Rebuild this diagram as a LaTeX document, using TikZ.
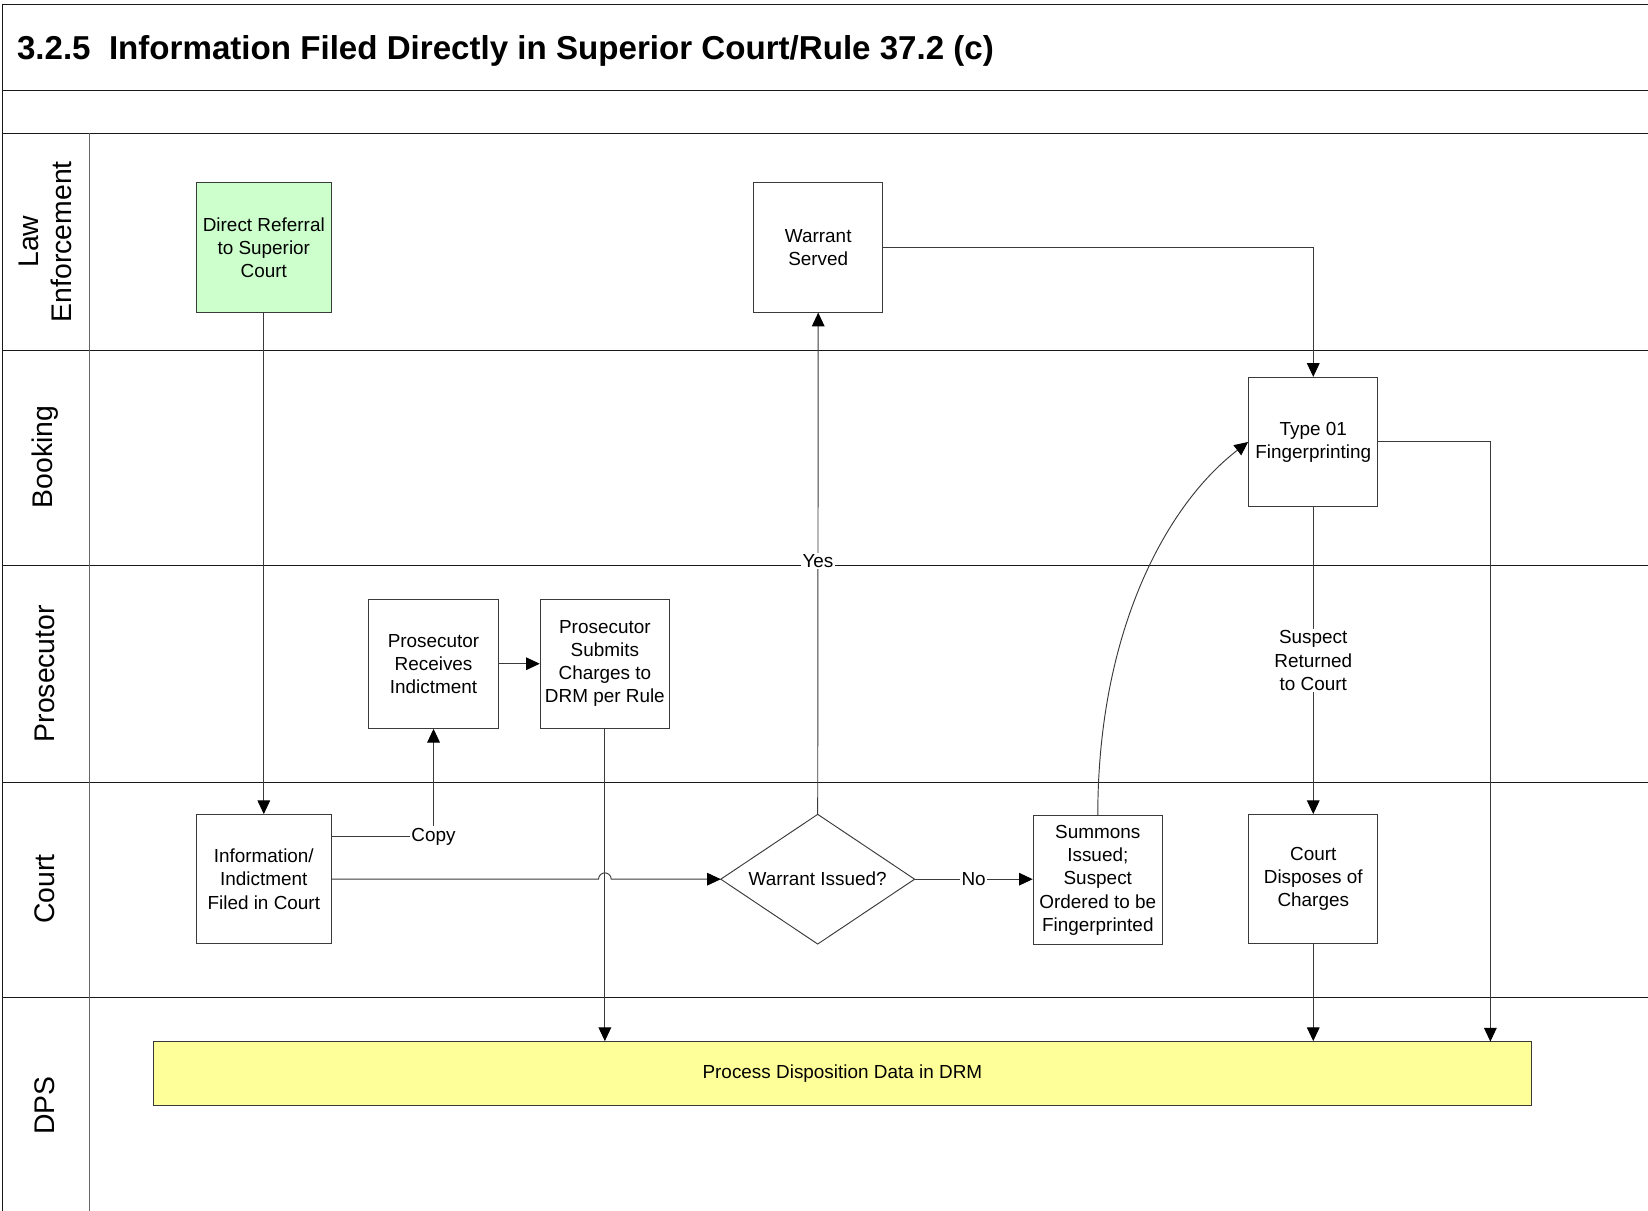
\documentclass[tikz,border=0pt]{standalone}
\usepackage{fontspec}
\setmainfont{Liberation Sans}
\usetikzlibrary{arrows.meta,calc}
\definecolor{boxgreen}{HTML}{CCFFCC}
\definecolor{boxyellow}{HTML}{FFFF99}
\definecolor{edgegray}{HTML}{3A3A3A}
\begin{document}
\begin{tikzpicture}[x=1pt,y=-1pt,
  lane/.style={line width=0.9pt,draw=black!90},
  colline/.style={line width=0.9pt,draw=black!60},
  procbox/.style={draw=edgegray,line width=0.9pt,fill=white,minimum width=123pt,minimum height=123pt,inner sep=0pt,align=center,font=\fontsize{18}{22}\selectfont},
  lanelabel/.style={rotate=90,align=center,font=\fontsize{27}{31}\selectfont},
  conn/.style={draw=edgegray,line width=0.9pt},
  arr/.style={conn,-{Triangle[length=13pt,width=12pt,color=black]}},
  lbl/.style={fill=white,inner sep=1.5pt,font=\fontsize{18}{22}\selectfont}]
\useasboundingbox (0,0) rectangle (1568,1152);
% frame and lanes
\draw[lane] (2,1152) -- (2,4) -- (1568,4);
\draw[lane] (2,86) -- (1568,86);
\draw[lane] (2,127) -- (1568,127);
\draw[lane] (2,333) -- (1568,333);
\draw[lane] (2,538) -- (1568,538);
\draw[lane] (2,744) -- (1568,744);
\draw[lane,line width=1.3pt] (2,949) -- (1568,949);
\draw[colline] (85,127) -- (85,1152);
% title
\node[anchor=base west,inner sep=0pt,font=\fontsize{31.5}{36}\selectfont\bfseries] (title) at (16,57) {3.2.5\hspace{0.556em}Information Filed Directly in Superior Court/Rule 37.2 (c)};
% lane labels
\node[lanelabel] (lLE) at (43,230) {Law\\Enforcement};
\node[lanelabel] (lBK) at (43,435) {Booking};
\node[lanelabel] (lPR) at (43,641) {Prosecutor};
\node[lanelabel] (lCT) at (43,846) {Court};
\node[lanelabel] (lDP) at (43,1052) {DPS};
% nodes
\node[procbox,fill=boxgreen,minimum width=128pt] (dr) at (251,235.5) {Direct Referral\\to Superior\\Court};
\node[procbox] (ws) at (778.5,235.5) {Warrant\\Served};
\node[procbox] (tf) at (1249.5,420.5) {Type 01\\Fingerprinting};
\node[procbox] (pri) at (412.5,631.5) {Prosecutor\\Receives\\Indictment};
\node[procbox] (psc) at (575.5,631.5) {Prosecutor\\Submits\\Charges to\\DRM per Rule};
\node[procbox,minimum width=128pt] (inf) at (251,836.5) {Information/\\Indictment\\Filed in Court};
\node[minimum width=184pt,minimum height=123pt,inner sep=0pt,font=\fontsize{18}{22}\selectfont] (wi) at (778,836.5) {Warrant Issued?};
\draw[conn] (wi.west) -- (wi.north) -- (wi.east) -- (wi.south) -- cycle;
\node[procbox] (si) at (1044.5,837.5) {Summons\\Issued;\\Suspect\\Ordered to be\\Fingerprinted};
\node[procbox] (cd) at (1249.5,836.5) {Court\\Disposes of\\Charges};
\node[procbox,fill=boxyellow,minimum width=1311pt,minimum height=61pt] (dps) at (801.5,1021.5) {Process Disposition Data in DRM};
\coordinate (dpsR) at (1418,991);
% connectors
\draw[arr] (dr.south) -- (inf.north);
\draw[arr] (inf.east |- 0,796) -| node[lbl,pos=0.5] {Copy} (pri.south);
\draw[arr] (pri.east) -- (psc.west);
\draw[arr] (psc.south) -- (psc.south |- dps.north);
\draw[arr] (inf.east) -- ($(psc.south |- inf.east)+(-6,0)$) arc[start angle=180,end angle=360,radius=6] -- (wi.west);
\draw[arr] (wi.north) -- node[lbl,pos=0.505] {Yes} (ws.south);
\draw[arr] (wi.east) -- node[lbl,pos=0.5] {No} (si.west |- wi.east);
\draw[arr] (si.north) .. controls (1044.5,600) and (1110,480) .. (tf.west);
\draw[arr] (ws.east) -| (tf.north);
\draw[arr] (tf.south) -- node[lbl,pos=0.5,align=center] {Suspect\\Returned\\to Court} (cd.north);
\draw[arr] (tf.east) -| (dpsR);
\draw[arr] (cd.south) -- (cd.south |- dps.north);
\end{tikzpicture}
\end{document}
